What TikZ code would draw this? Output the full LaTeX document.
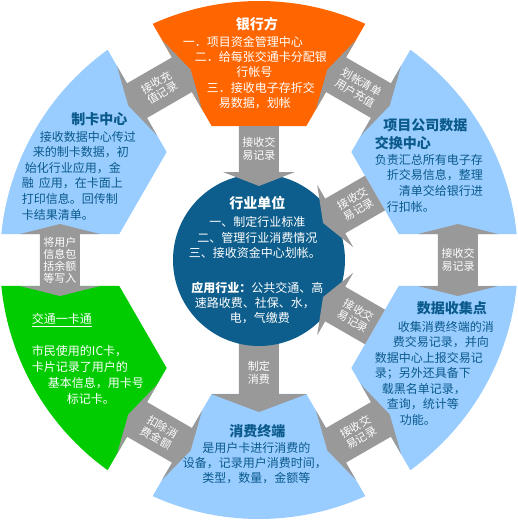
\documentclass[tikz,border=0pt]{standalone}
\usepackage{fontspec}
\setmainfont{Noto Sans CJK SC}
\definecolor{orng}{RGB}{255,102,0}
\definecolor{lblue}{RGB}{153,204,255}
\definecolor{grn}{RGB}{0,204,0}
\definecolor{dblue}{RGB}{13,94,140}
\definecolor{gry}{RGB}{153,153,153}
\definecolor{txtblue}{RGB}{10,90,140}
\begin{document}
\begin{tikzpicture}[x=1pt,y=1pt,
  every node/.style={inner sep=0pt,outer sep=0pt},
  segtxt/.style={text=txtblue,font=\fontsize{12}{15}\selectfont},
  segttl/.style={text=txtblue,font=\fontsize{14}{16}\selectfont\bfseries},
  wtxt/.style={text=white,font=\fontsize{12}{15}\selectfont},
  wttl/.style={text=white,font=\fontsize{14}{16}\selectfont\bfseries},
  arrtxt/.style={text=white,font=\fontsize{11}{12.5}\selectfont,align=center}]
\useasboundingbox (-259,-260) rectangle (259,260);
\fill[white] (-259,-260) rectangle (259,260);
% outer segments
\foreach \a/\c in {90/orng,30/lblue,-30/lblue,-90/lblue,-150/grn,150/lblue}{
  \fill[\c] ({\a-19.46}:142.1) -- ({\a-24.24}:259) arc[start angle={\a-24.24},end angle={\a+24.24},radius=259] -- ({\a+19.46}:142.1) -- cycle;
}
% arrows in the gaps
\foreach \g in {0,60,120,180,240,300}{
  \fill[gry,rotate=\g] (199,-36) -- (239,-26) -- (219,-26) -- (219,26) -- (239,26) -- (199,36) -- (159,26) -- (179,26) -- (179,-26) -- (159,-26) -- cycle;
}
% center to bottom arrow
\fill[gry,rotate=-90] (80,-20) -- (134,-20) -- (134,-48) -- (152,0) -- (134,48) -- (134,20) -- (80,20) -- cycle;
% center circle
\fill[dblue] (0,0) circle[radius=86];
% arrows into the center
\foreach \g in {90,30,-30}{
  \fill[gry,rotate=\g] (134,-20) -- (88,-20) -- (88,-36) -- (74,0) -- (88,36) -- (88,20) -- (134,20) -- cycle;
}
% bank
\node[wttl] (bt) at (-2,236) {银行方};
\node[wtxt] (b1) at (-16,218) {一．项目资金管理中心};
\node[wtxt] (b2) at (2,203) {二．给每张交通卡分配银};
\node[wtxt] (b3) at (-4.5,188) {行帐号};
\node[wtxt] (b4) at (2,172) {三．接收电子存折交};
\node[wtxt] (b5) at (-4,157) {易数据，划帐};
% card center
\node[segttl] (ct) at (-159.5,141) {制卡中心};
\node[segtxt,anchor=west] (c1) at (-219,123) {接收数据中心传过};
\node[segtxt,anchor=west] (c2) at (-226,107.5) {来的制卡数据，初};
\node[segtxt,anchor=west] (c3) at (-234,92) {始化行业应用，金};
\node[segtxt,anchor=west] (c4) at (-237,76.5) {融\hspace{5pt}应用，在卡面上};
\node[segtxt,anchor=west] (c5) at (-237,61) {打印信息。回传制};
\node[segtxt,anchor=west] (c6) at (-237,45.5) {卡结果清单。};
% data exchange center
\node[segttl] (et1) at (166.5,135) {项目公司数据};
\node[segttl,anchor=west] (et2) at (116,117) {交换中心};
\node[segtxt,anchor=east] (e1) at (224,100) {负责汇总所有电子存};
\node[segtxt,anchor=east] (e2) at (224,84.5) {折交易信息，整理};
\node[segtxt,anchor=east] (e3) at (224,69) {清单交给银行进};
\node[segtxt,anchor=west] (e4) at (128,53.5) {行扣帐。};
% data collection point
\node[segttl] (dt) at (193,-48) {数据收集点};
\node[segtxt,anchor=west] (d1) at (139,-67) {收集消费终端的消};
\node[segtxt,anchor=west] (d2) at (134,-82.5) {费交易记录，并向};
\node[segtxt,anchor=west] (d3) at (116,-98) {数据中心上报交易记};
\node[segtxt,anchor=west] (d4) at (116,-113.5) {录；另外还具备下};
\node[segtxt,anchor=west] (d5) at (123,-129) {载黑名单记录，};
\node[segtxt,anchor=west] (d6) at (128,-144.5) {查询，统计等};
\node[segtxt,anchor=west] (d7) at (141,-160) {功能。};
% terminal
\node[segttl] (tt) at (-1.5,-171) {消费终端};
\node[segtxt] (t1) at (-2.5,-188) {是用户卡进行消费的};
\node[segtxt] (t2) at (-4,-203) {设备，记录用户消费时间，};
\node[segtxt] (t3) at (-2.5,-218) {类型，数量，金额等};
% transport card
\node[wtxt,anchor=west] (gt) at (-227,-60) {\underline{交通一卡通}};
\node[wtxt,anchor=west] (g1) at (-227,-91) {市民使用的IC卡，};
\node[wtxt,anchor=west] (g2) at (-227,-107) {卡片记录了用户的};
\node[wtxt,anchor=west] (g3) at (-211,-123) {基本信息，用卡号};
\node[wtxt,anchor=west] (g4) at (-192,-138.5) {标记卡。};
% center text
\node[wttl] (mt) at (-1.5,57) {行业单位};
\node[wtxt] (m1) at (-1.5,38) {一、制定行业标准};
\node[wtxt] (m2) at (-1.5,22) {二、管理行业消费情况};
\node[wtxt] (m3) at (-4,7) {三、接收资金中心划帐。};
\node[wtxt] (m4) at (-1.5,-28) {\textbf{应用行业：}公共交通、高};
\node[wtxt] (m5) at (-4,-43) {速路收费、社保、水，};
\node[wtxt] (m6) at (1,-58) {电，气缴费};
% arrow labels (gaps)
\node[arrtxt] (a0) at (0:199) {接收交\\易记录};
\node[arrtxt,rotate=-30] (a60) at (60:199) {划帐清单\\用户充值};
\node[arrtxt,rotate=30] (a120) at (120:199) {接收充\\值记录};
\node[arrtxt,font=\fontsize{11}{12}\selectfont] (a180) at (180:199) {将用户\\信息包\\括余额\\等写入};
\node[arrtxt,rotate=-30] (a240) at (240:199) {扣除消\\费金额};
\node[arrtxt,rotate=30] (a300) at (300:199) {接收交\\易记录};
% arrow labels (radial)
\node[arrtxt] (r90) at (90:111) {接收交\\易记录};
\node[arrtxt,rotate=30] (r30) at (30:112) {接收交\\易记录};
\node[arrtxt,rotate=-30] (rm30) at (-30:112) {接收交\\易记录};
\node[arrtxt] (rm90) at (-90:113) {制定\\消费};
\end{tikzpicture}
\end{document}
